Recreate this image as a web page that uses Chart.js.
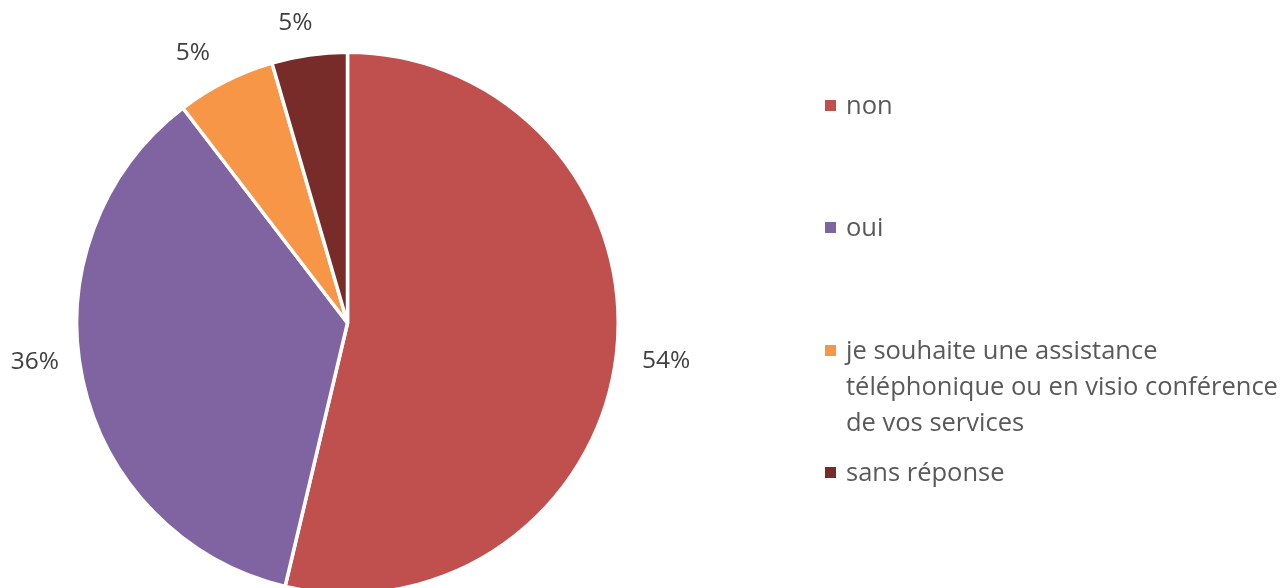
<!DOCTYPE html>
<html>
<head>
<meta charset="utf-8">
<script src="https://cdn.jsdelivr.net/npm/chart.js@4/dist/chart.umd.min.js"></script>
<style>
  html, body { margin: 0; padding: 0; background: #fff; overflow: hidden; }
  #wrap { width: 1283px; height: 588px; overflow: hidden; }
</style>
</head>
<body>
<div id="wrap"><canvas id="Chart1" width="1283" height="600"></canvas></div>
<script>
// data
const categories = ['non', 'oui', 'je souhaite une assistance téléphonique ou en visio conférence de vos services', 'sans réponse'];
const values = [53.7, 35.9, 5.9, 4.5];
const pct_labels = ['54%', '36%', '5%', '5%'];
const colors = ['#C0504D', '#8064A2', '#F79646', '#772C2A'];

// legend text as wrapped in the picture
const legend_lines = [['non'], ['oui'], ['je souhaite une assistance', 'téléphonique ou en visio conférence', 'de vos services'], ['sans réponse']];
const legend_y = [105, 227, 350, 472];
const label_nudge = [[0, 1], [1, -28], [-10, 16], [-7, 18]];

const font_family = '"Open Sans", "Liberation Sans", sans-serif';

const pct_plugin = {
    id: 'pct_labels',
    afterDatasetsDraw(chart) {
        let ctx = chart.ctx;
        let meta = chart.getDatasetMeta(0);
        ctx.save();
        ctx.font = '24.5px ' + font_family;
        ctx.fillStyle = '#404040';
        ctx.textAlign = 'center';
        ctx.textBaseline = 'middle';
        meta.data.forEach((arc, i) => {
            let p = arc.getProps(['x', 'y', 'startAngle', 'endAngle', 'outerRadius'], true);
            let mid = (p.startAngle + p.endAngle) / 2;
            let d = p.outerRadius + 50;
            let x = p.x + Math.cos(mid) * d + label_nudge[i][0];
            let y = p.y + Math.sin(mid) * d + label_nudge[i][1];
            ctx.fillText(pct_labels[i], x, y);
        });
        ctx.restore();
    }
};

const legend_plugin = {
    id: 'side_legend',
    afterDraw(chart) {
        let ctx = chart.ctx;
        ctx.save();
        ctx.font = '25.5px ' + font_family;
        ctx.textBaseline = 'alphabetic';
        for (let i = 0; i < categories.length; i++) {
            let y = legend_y[i];
            ctx.fillStyle = colors[i];
            ctx.fillRect(825, y - 5, 11, 11);
            ctx.fillStyle = '#595959';
            legend_lines[i].forEach((line, j) => {
                ctx.fillText(line, 846, y + 9 + j * 36);
            });
        }
        ctx.restore();
    }
};

let data = {
    labels: categories,
    datasets: [{
        data: values,
        backgroundColor: colors,
        borderColor: '#ffffff',
        borderWidth: 3.5
    }]
};

let config = {
    type: 'pie',
    data: data,
    options: {
        responsive: false,
        animation: false,
        layout: { padding: { left: 75, right: 663, top: 50, bottom: 4 } },
        plugins: {
            legend: { display: false },
            tooltip: { enabled: false }
        }
    },
    plugins: [pct_plugin, legend_plugin]
};

new Chart(document.getElementById('Chart1'), config);
</script>
</body>
</html>
